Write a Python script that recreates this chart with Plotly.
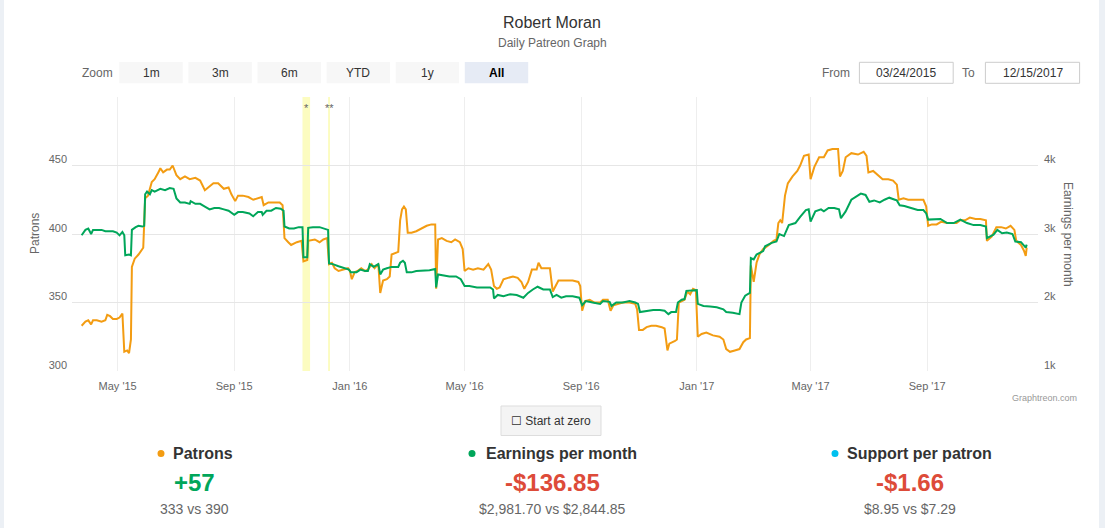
import pandas as pd
import plotly.graph_objects as go

# valores (Patrons -> eixo esquerdo, Earnings -> eixo direito)
patron_dates = [
    "2015-03-24", "2015-03-28", "2015-03-31", "2015-04-03", "2015-04-05", "2015-04-09", "2015-04-14",
    "2015-04-18", "2015-04-20", "2015-04-23", "2015-04-26", "2015-04-30", "2015-05-03", "2015-05-06",
    "2015-05-08", "2015-05-11", "2015-05-13", "2015-05-15", "2015-05-16", "2015-05-19", "2015-05-23",
    "2015-05-26", "2015-05-28", "2015-05-30", "2015-06-02", "2015-06-06", "2015-06-09", "2015-06-13",
    "2015-06-15", "2015-06-18", "2015-06-22", "2015-06-25", "2015-06-28", "2015-07-02", "2015-07-06",
    "2015-07-11", "2015-07-16", "2015-07-22", "2015-07-27", "2015-08-01", "2015-08-05", "2015-08-10",
    "2015-08-15", "2015-08-21", "2015-08-26", "2015-08-29", "2015-09-02", "2015-09-05", "2015-09-10",
    "2015-09-16", "2015-09-21", "2015-09-26", "2015-09-30", "2015-10-02", "2015-10-07", "2015-10-12",
    "2015-10-19", "2015-10-22", "2015-10-24", "2015-10-28", "2015-10-31", "2015-11-06", "2015-11-11",
    "2015-11-13", "2015-11-17", "2015-11-18", "2015-11-25", "2015-11-30", "2015-12-04", "2015-12-08",
    "2015-12-10", "2015-12-13", "2015-12-16", "2015-12-20", "2015-12-25", "2015-12-30", "2016-01-01",
    "2016-01-03", "2016-01-06", "2016-01-09", "2016-01-13", "2016-01-17", "2016-01-20", "2016-01-24",
    "2016-01-27", "2016-01-31", "2016-02-02", "2016-02-05", "2016-02-09", "2016-02-12", "2016-02-14",
    "2016-02-17", "2016-02-21", "2016-02-23", "2016-02-25", "2016-02-27", "2016-02-29", "2016-03-02",
    "2016-03-06", "2016-03-11", "2016-03-17", "2016-03-22", "2016-03-27", "2016-03-31", "2016-04-01",
    "2016-04-03", "2016-04-07", "2016-04-12", "2016-04-17", "2016-04-21", "2016-04-26", "2016-04-29",
    "2016-05-01", "2016-05-05", "2016-05-10", "2016-05-15", "2016-05-21", "2016-05-26", "2016-05-29",
    "2016-06-01", "2016-06-04", "2016-06-07", "2016-06-11", "2016-06-16", "2016-06-21", "2016-06-26",
    "2016-06-30", "2016-07-03", "2016-07-07", "2016-07-11", "2016-07-16", "2016-07-18", "2016-07-21",
    "2016-07-26", "2016-07-30", "2016-08-02", "2016-08-05", "2016-08-08", "2016-08-13", "2016-08-18",
    "2016-08-23", "2016-08-29", "2016-08-31", "2016-09-02", "2016-09-05", "2016-09-10", "2016-09-15",
    "2016-09-21", "2016-09-24", "2016-09-29", "2016-10-02", "2016-10-05", "2016-10-10", "2016-10-15",
    "2016-10-22", "2016-10-28", "2016-10-30", "2016-11-01", "2016-11-05", "2016-11-09", "2016-11-14",
    "2016-11-19", "2016-11-25", "2016-11-28", "2016-12-01", "2016-12-03", "2016-12-09", "2016-12-11",
    "2016-12-13", "2016-12-16", "2016-12-19", "2016-12-22", "2016-12-25", "2016-12-28", "2016-12-31",
    "2017-01-02", "2017-01-06", "2017-01-11", "2017-01-18", "2017-01-25", "2017-01-29", "2017-02-01",
    "2017-02-05", "2017-02-10", "2017-02-15", "2017-02-19", "2017-02-22", "2017-02-26", "2017-02-27",
    "2017-03-02", "2017-03-05", "2017-03-08", "2017-03-12", "2017-03-18", "2017-03-23", "2017-03-26",
    "2017-03-28", "2017-03-30", "2017-04-01", "2017-04-04", "2017-04-07", "2017-04-12", "2017-04-17",
    "2017-04-20", "2017-04-24", "2017-04-29", "2017-05-01", "2017-05-05", "2017-05-10", "2017-05-15",
    "2017-05-19", "2017-05-24", "2017-05-30", "2017-06-01", "2017-06-04", "2017-06-07", "2017-06-13",
    "2017-06-20", "2017-06-26", "2017-06-29", "2017-07-01", "2017-07-06", "2017-07-11", "2017-07-16",
    "2017-07-22", "2017-07-27", "2017-07-31", "2017-08-02", "2017-08-07", "2017-08-12", "2017-08-17",
    "2017-08-22", "2017-08-28", "2017-08-31", "2017-09-02", "2017-09-06", "2017-09-11", "2017-09-16",
    "2017-09-22", "2017-09-27", "2017-10-02", "2017-10-06", "2017-10-11", "2017-10-16", "2017-10-22",
    "2017-10-27", "2017-11-02", "2017-11-03", "2017-11-08", "2017-11-13", "2017-11-18", "2017-11-23",
    "2017-11-28", "2017-12-02", "2017-12-04", "2017-12-09", "2017-12-12", "2017-12-14", "2017-12-15",
]
patrons = [
    333, 336, 337, 334, 337, 337, 336, 337, 341, 340, 338, 338, 339, 342,
    314, 315, 313, 323, 376, 382, 385, 388, 390, 426, 428, 438, 440, 445,
    448, 445, 447, 447, 450, 443, 440, 442, 440, 441, 439, 432, 434, 437,
    437, 433, 434, 429, 424, 428, 428, 427, 425, 426, 427, 421, 423, 423,
    423, 421, 397, 394, 392, 394, 395, 380, 381, 395, 396, 394, 396, 397,
    378, 379, 375, 373, 374, 375, 373, 367, 372, 373, 375, 373, 374, 378,
    375, 378, 357, 366, 367, 369, 385, 386, 387, 410, 418, 420, 418, 401,
    401, 402, 404, 406, 407, 407, 360, 396, 397, 395, 394, 396, 394, 389,
    373, 375, 374, 375, 374, 378, 374, 362, 360, 361, 367, 368, 369, 368,
    365, 360, 365, 374, 374, 379, 375, 375, 375, 358, 362, 366, 366, 366,
    366, 365, 362, 344, 351, 352, 350, 350, 352, 352, 344, 348, 349, 350,
    350, 349, 345, 330, 330, 332, 333, 333, 332, 331, 315, 320, 322, 323,
    350, 351, 352, 358, 356, 360, 359, 325, 327, 328, 326, 325, 323, 316,
    314, 315, 316, 321, 323, 324, 377, 365, 379, 385, 389, 392, 395, 396,
    408, 410, 408, 428, 437, 442, 446, 450, 457, 458, 440, 449, 456, 456,
    461, 462, 462, 442, 446, 456, 459, 458, 460, 457, 445, 446, 443, 440,
    440, 439, 436, 425, 426, 425, 425, 425, 425, 420, 406, 407, 407, 409,
    408, 408, 408, 410, 410, 412, 411, 411, 410, 395, 398, 405, 405, 404,
    406, 403, 395, 392, 388, 384, 390,
]

earning_dates = [
    "2015-03-24", "2015-03-28", "2015-03-31", "2015-04-03", "2015-04-05", "2015-04-14", "2015-04-18",
    "2015-04-26", "2015-04-30", "2015-05-03", "2015-05-06", "2015-05-08", "2015-05-09", "2015-05-13",
    "2015-05-15", "2015-05-16", "2015-05-20", "2015-05-23", "2015-05-27", "2015-05-29", "2015-05-30",
    "2015-06-01", "2015-06-04", "2015-06-06", "2015-06-09", "2015-06-15", "2015-06-20", "2015-06-25",
    "2015-06-29", "2015-07-02", "2015-07-06", "2015-07-11", "2015-07-16", "2015-07-17", "2015-07-22",
    "2015-07-27", "2015-08-01", "2015-08-06", "2015-08-11", "2015-08-16", "2015-08-21", "2015-08-26",
    "2015-09-01", "2015-09-05", "2015-09-10", "2015-09-17", "2015-09-21", "2015-09-26", "2015-09-30",
    "2015-10-01", "2015-10-05", "2015-10-10", "2015-10-15", "2015-10-20", "2015-10-23", "2015-10-24",
    "2015-10-29", "2015-11-03", "2015-11-08", "2015-11-12", "2015-11-13", "2015-11-17", "2015-11-18",
    "2015-11-23", "2015-11-30", "2015-12-05", "2015-12-09", "2015-12-10", "2015-12-14", "2015-12-20",
    "2015-12-25", "2015-12-31", "2016-01-02", "2016-01-08", "2016-01-12", "2016-01-17", "2016-01-20",
    "2016-01-22", "2016-01-26", "2016-01-31", "2016-02-02", "2016-02-05", "2016-02-09", "2016-02-14",
    "2016-02-21", "2016-02-23", "2016-02-26", "2016-02-28", "2016-03-01", "2016-03-06", "2016-03-11",
    "2016-03-18", "2016-03-25", "2016-03-31", "2016-04-01", "2016-04-03", "2016-04-08", "2016-04-15",
    "2016-04-22", "2016-04-27", "2016-05-01", "2016-05-06", "2016-05-14", "2016-05-21", "2016-05-28",
    "2016-05-31", "2016-06-01", "2016-06-05", "2016-06-11", "2016-06-18", "2016-06-25", "2016-07-02",
    "2016-07-07", "2016-07-12", "2016-07-17", "2016-07-23", "2016-07-30", "2016-08-02", "2016-08-06",
    "2016-08-11", "2016-08-16", "2016-08-23", "2016-08-30", "2016-09-02", "2016-09-06", "2016-09-13",
    "2016-09-21", "2016-09-24", "2016-10-01", "2016-10-03", "2016-10-08", "2016-10-15", "2016-10-22",
    "2016-10-28", "2016-10-31", "2016-11-02", "2016-11-09", "2016-11-16", "2016-11-23", "2016-11-28",
    "2016-12-02", "2016-12-05", "2016-12-10", "2016-12-12", "2016-12-16", "2016-12-19", "2016-12-21",
    "2016-12-26", "2017-01-01", "2017-01-02", "2017-01-08", "2017-01-15", "2017-01-22", "2017-01-29",
    "2017-02-01", "2017-02-08", "2017-02-15", "2017-02-17", "2017-02-21", "2017-02-26", "2017-02-27",
    "2017-03-02", "2017-03-05", "2017-03-12", "2017-03-14", "2017-03-21", "2017-03-26", "2017-03-29",
    "2017-04-03", "2017-04-08", "2017-04-15", "2017-04-20", "2017-04-26", "2017-04-29", "2017-05-01",
    "2017-05-06", "2017-05-12", "2017-05-15", "2017-05-20", "2017-05-26", "2017-05-31", "2017-06-02",
    "2017-06-07", "2017-06-13", "2017-06-18", "2017-06-23", "2017-06-28", "2017-06-30", "2017-07-02",
    "2017-07-07", "2017-07-13", "2017-07-18", "2017-07-23", "2017-07-29", "2017-07-31", "2017-08-03",
    "2017-08-08", "2017-08-15", "2017-08-22", "2017-08-28", "2017-08-31", "2017-09-02", "2017-09-07",
    "2017-09-15", "2017-09-22", "2017-09-29", "2017-10-06", "2017-10-13", "2017-10-20", "2017-10-27",
    "2017-11-02", "2017-11-03", "2017-11-07", "2017-11-10", "2017-11-14", "2017-11-19", "2017-11-24",
    "2017-11-30", "2017-12-03", "2017-12-09", "2017-12-14", "2017-12-15",
]
earnings = [
    2982, 3060, 3080, 3000, 3060, 3060, 3040, 3040, 3020, 2980, 3030, 2980, 2690, 2700,
    2690, 3060, 3100, 3120, 3110, 3120, 3580, 3620, 3580, 3640, 3620, 3660, 3640, 3670,
    3660, 3520, 3460, 3460, 3440, 3480, 3440, 3440, 3400, 3360, 3380, 3380, 3360, 3340,
    3280, 3320, 3320, 3300, 3260, 3320, 3320, 3280, 3340, 3340, 3380, 3370, 3340, 3110,
    3080, 3080, 3100, 3100, 2660, 2660, 3090, 3100, 3100, 3080, 3060, 2570, 2560, 2530,
    2510, 2480, 2440, 2440, 2480, 2460, 2460, 2560, 2520, 2560, 2410, 2480, 2500, 2520,
    2520, 2580, 2610, 2580, 2440, 2440, 2460, 2470, 2470, 2490, 2220, 2410, 2400, 2380,
    2380, 2340, 2240, 2240, 2220, 2220, 2220, 2190, 2060, 2110, 2090, 2120, 2110, 2070,
    2140, 2190, 2230, 2190, 2190, 2080, 2110, 2070, 2090, 2090, 2070, 1960, 2020, 2000,
    1980, 2020, 2010, 1950, 2000, 2000, 2020, 2000, 1980, 1860, 1880, 1890, 1890, 1880,
    1830, 1860, 1860, 2000, 2040, 2050, 2170, 2170, 2180, 1980, 1950, 1940, 1930, 1900,
    1860, 1850, 1830, 2000, 2100, 2140, 2650, 2630, 2700, 2750, 2820, 2870, 2890, 3000,
    2970, 3130, 3160, 3250, 3350, 3360, 3180, 3330, 3360, 3330, 3380, 3380, 3360, 3230,
    3330, 3500, 3550, 3590, 3570, 3520, 3470, 3490, 3460, 3500, 3530, 3500, 3490, 3420,
    3410, 3380, 3350, 3350, 3300, 3210, 3210, 3220, 3160, 3160, 3210, 3160, 3130, 3130,
    3110, 2940, 2970, 2990, 3060, 3010, 3020, 3000, 2890, 2880, 2800, 2845,
]

y_ticks = [300, 350, 400, 450, 500]
y_ticktext = ["300", "350", "400", "450", ""]
y2_ticks = [1000, 2000, 3000, 4000, 5000]
y2_ticktext = ["1k", "2k", "3k", "4k", ""]

# marcações (faixas amarelas)
band_starts = ["2015-11-12", "2015-12-09"]
band_ends = ["2015-11-20", "2015-12-11"]
band_labels = ["*", "**"]

zoom_labels = ["1m", "3m", "6m", "YTD", "1y", "All"]
date_from = "03/24/2015"
date_to = "12/15/2017"

stat_titles = ["Patrons", "Earnings per month", "Support per patron"]
stat_dots = ["#f39c12", "#00a65a", "#00c0ef"]
stat_values = ["+57", "-$136.85", "-$1.66"]
stat_value_colors = ["#00a65a", "#dd4b39", "#dd4b39"]
stat_compare = ["333 vs 390", "$2,981.70 vs $2,844.85", "$8.95 vs $7.29"]

ORANGE = "#f39c12"
GREEN = "#00a65a"
FONT = "Liberation Sans, Arial, sans-serif"

# área do gráfico em pixels
L, T, W, H = 72, 97, 966, 274


def px(x):
    return (x - L) / W


def py(y):
    return (T + H - y) / H


def texto(x, y, txt, size=12, color="#666", xanchor="center", **kw):
    return dict(x=px(x), y=py(y), xref="paper", yref="paper", text=txt, showarrow=False,
                font=dict(size=size, color=color), xanchor=xanchor, yanchor="middle", **kw)


fig = go.Figure()

fig.add_trace(go.Scatter(
    x=patron_dates, y=patrons, name="Patrons", mode="lines",
    line=dict(color=ORANGE, width=2),
    hovertemplate="%{x|%b %d, %Y}<br>Patrons: %{y}<extra></extra>"
))
fig.add_trace(go.Scatter(
    x=earning_dates, y=earnings, name="Earnings per month", mode="lines", yaxis="y2",
    line=dict(color=GREEN, width=2),
    hovertemplate="%{x|%b %d, %Y}<br>Earnings: $%{y:,.2f}<extra></extra>"
))

shapes = []
annotations = []

# faixas amarelas e rótulos
for ini, fim, lab in zip(band_starts, band_ends, band_labels):
    shapes.append(dict(type="rect", xref="x", yref="paper", x0=ini, x1=fim, y0=0, y1=1,
                       fillcolor="#fcfcc0", line=dict(width=0), layer="below"))
    meio = pd.Timestamp(ini) + (pd.Timestamp(fim) - pd.Timestamp(ini)) / 2
    annotations.append(dict(x=meio, xref="x", y=py(108), yref="paper", text=lab, showarrow=False,
                            font=dict(size=11, color="#666"), xanchor="center", yanchor="middle"))

# título
annotations.append(texto(552, 22, "Robert Moran", size=16, color="#333"))
annotations.append(texto(552, 43, "Daily Patreon Graph", size=12, color="#666"))

# botões de zoom
annotations.append(texto(97, 72.5, "Zoom"))
for i, lab in enumerate(zoom_labels):
    x0 = 119.3 + i * 69.1
    ativo = lab == "All"
    shapes.append(dict(type="rect", xref="paper", yref="paper", x0=px(x0), x1=px(x0 + 63.4),
                       y0=py(83.3), y1=py(62), fillcolor="#e6ebf5" if ativo else "#f7f7f7",
                       line=dict(width=0)))
    annotations.append(texto(x0 + 31.7, 72.5, f"<b>{lab}</b>" if ativo else lab,
                             color="#000" if ativo else "#333"))

# caixas de data
annotations.append(texto(851.6, 72.5, "From", xanchor="right"))
annotations.append(texto(977.3, 72.5, "To", xanchor="right"))
for x0, x1, txt in [(859.4, 953.2, date_from), (985.4, 1079.6, date_to)]:
    shapes.append(dict(type="rect", xref="paper", yref="paper", x0=px(x0), x1=px(x1),
                       y0=py(83.3), y1=py(62.3), fillcolor="white", line=dict(color="#cccccc", width=1)))
    annotations.append(texto((x0 + x1) / 2, 72.5, txt, color="#333"))

# títulos dos eixos
annotations.append(texto(35, 234, "Patrons", textangle=-90))
annotations.append(texto(1068, 234, "Earnings per month", textangle=90))

# crédito
annotations.append(texto(1079, 398, "Graphtreon.com", size=9, color="#999", xanchor="right"))

# botão "Start at zero"
shapes.append(dict(type="rect", xref="paper", yref="paper", x0=px(501), x1=px(601), y0=py(435.5), y1=py(406),
                   fillcolor="#f4f4f4", line=dict(color="#dddddd", width=1)))
annotations.append(texto(551, 421, "☐ Start at zero", color="#333"))

# resumo embaixo (bolinha colorida + título, valor, comparação)
dot_x = [161, 472, 835]
title_x = [171, 483.5, 845]
for i, (tit, cor, val, vcor, comp) in enumerate(zip(stat_titles, stat_dots, stat_values,
                                                      stat_value_colors, stat_compare)):
    cx = 194 + i * 358
    shapes.append(dict(type="circle", xref="paper", yref="paper",
                       x0=px(dot_x[i] - 3.5), x1=px(dot_x[i] + 3.5), y0=py(457), y1=py(450),
                       fillcolor=cor, line=dict(width=0)))
    annotations.append(texto(title_x[i], 453, f"<b>{tit}</b>", size=16, color="#333", xanchor="left"))
    annotations.append(texto(cx, 482, f"<b>{val}</b>", size=24, color=vcor))
    annotations.append(texto(cx, 509, comp, size=14, color="#666"))

# bordas laterais da página
for x0, x1 in [(0, 4), (1099, 1105)]:
    shapes.append(dict(type="rect", xref="paper", yref="paper", x0=px(x0), x1=px(x1), y0=py(528), y1=py(0),
                       fillcolor="#ecf0f5", line=dict(width=0)))

fig.update_layout(
    width=1105, height=528,
    margin=dict(l=L, r=1105 - L - W, t=T, b=528 - T - H),
    paper_bgcolor="white", plot_bgcolor="white",
    font=dict(family=FONT, color="#666"),
    showlegend=False,
    hovermode="x",
    xaxis=dict(
        type="date", range=["2015-03-13 20:00", "2017-12-26 22:00"],
        tick0="2015-01-01", dtick="M4", tickformat="%b '%y",
        showgrid=True, gridcolor="#eeeeee", zeroline=False, showline=False,
        ticks="", tickfont=dict(size=11, color="#666"), ticklabelstandoff=7,
    ),
    yaxis=dict(
        range=[300, 500], tickvals=y_ticks, ticktext=y_ticktext,
        showgrid=True, gridcolor="#e6e6e6", zeroline=False, showline=False,
        ticks="", tickfont=dict(size=11, color="#666"), ticklabelshift=-6, ticklabelstandoff=4,
    ),
    yaxis2=dict(
        range=[1000, 5000], tickvals=y2_ticks, ticktext=y2_ticktext,
        overlaying="y", side="right", showgrid=False, zeroline=False, showline=False,
        ticks="", tickfont=dict(size=11, color="#666"), ticklabelshift=-6, ticklabelstandoff=5,
    ),
    shapes=shapes,
    annotations=annotations,
)

# a página tem margem padrão de 8px no body; zera para a figura ocupar a janela toda
fig.write_html("out.html", config={"displayModeBar": False},
               post_script="document.body.style.margin='0px';")
